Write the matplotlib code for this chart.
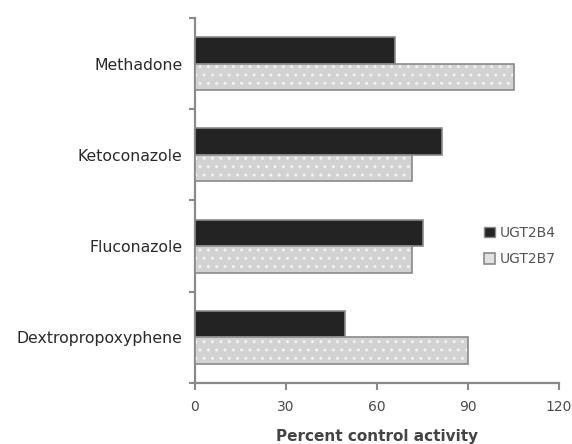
import matplotlib
matplotlib.use("Agg")
import matplotlib.pyplot as plt
from matplotlib.patches import Patch
import numpy as np

drugs = ["Dextropropoxyphene", "Fluconazole", "Ketoconazole", "Methadone"]
ugt2b4 = [49.5, 75, 81.5, 66]
ugt2b7 = [90, 71.5, 71.5, 105]
series_names = ["UGT2B4", "UGT2B7"]
x_ticks = [0, 30, 60, 90, 120]
x_label = "Percent control activity"

plt.rcParams["font.family"] = ["DejaVu Sans"]

fig = plt.figure(figsize=(5.72, 4.44), dpi=100)
ax = fig.add_axes([195 / 572, 1 - 383 / 444, 364 / 572, 365 / 444])

y = np.arange(len(drugs))
h = 0.29
edge = "#8a8a8a"

ax.barh(y + h / 2, ugt2b4, height=h, color="#232323", edgecolor=edge, linewidth=1.2, zorder=3)
# dotted light bars: hatch layer then outline
ax.barh(y - h / 2, ugt2b7, height=h, color="#d2d2d2", edgecolor="#f2f2f2", hatch="..",
        linewidth=0, zorder=3)
ax.barh(y - h / 2, ugt2b7, height=h, fill=False, edgecolor=edge, linewidth=1.2, zorder=4)

ax.set_xlim(0, 120)
ax.set_ylim(-0.5, len(drugs) - 0.5)

ax.set_xticks(x_ticks)
ax.set_xticklabels([str(v) for v in x_ticks])
ax.set_yticks(np.arange(-0.5, len(drugs), 1.0))
ax.set_yticklabels([])
ax.set_yticks(y, minor=True)
ax.set_yticklabels(drugs, minor=True)

ax.tick_params(axis="y", which="major", length=4, width=1.5, color=edge, direction="out")
ax.tick_params(axis="y", which="minor", length=0, pad=9, labelsize=11.3, labelcolor="#2a2a2a")
ax.tick_params(axis="x", length=5, width=1.5, color=edge, direction="out", pad=7,
               labelsize=10, labelcolor="#4a4a4a")

for s in ["top", "right"]:
    ax.spines[s].set_visible(False)
for s in ["left", "bottom"]:
    ax.spines[s].set_color(edge)
    ax.spines[s].set_linewidth(1.6)

ax.set_xlabel(x_label, fontsize=11, color="#444444", labelpad=11, fontweight="bold")

handles = [
    Patch(facecolor="#232323", edgecolor=edge, linewidth=1.0),
    Patch(facecolor="#e2e2e2", edgecolor=edge, linewidth=1.2),
]
fig.legend(handles, series_names, loc="center left", bbox_to_anchor=(471 / 572, 1 - 246 / 444),
           frameon=False, fontsize=10, handlelength=0.8, handleheight=0.8, handletextpad=0.4,
           labelspacing=0.9, labelcolor="#555555")

fig.savefig("out.png", dpi=100)
